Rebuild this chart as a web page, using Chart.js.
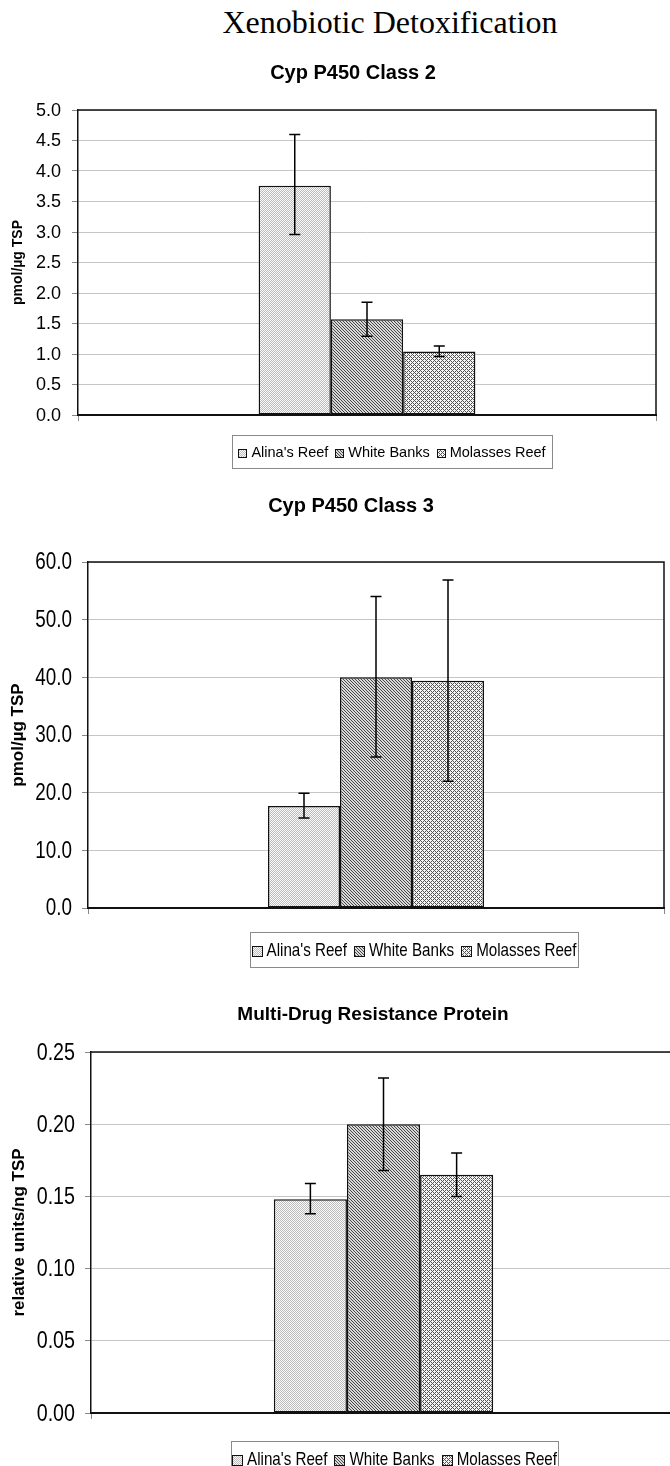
<!DOCTYPE html>
<html>
<head>
<meta charset="utf-8">
<script src="https://cdn.jsdelivr.net/npm/chart.js@4.4.1/dist/chart.umd.min.js"></script>
<style>
  html, body { margin: 0; padding: 0; background: #fff; }
  body { width: 670px; height: 1466px; position: relative; overflow: hidden; }
  #mainTitle {
    position: absolute; left: 190px; top: 4px; width: 400px;
    text-align: center; font: 32px/36px "Liberation Serif", "Times New Roman", serif; color: #000;
  }
  .band { position: absolute; left: 0; }
</style>
</head>
<body>
<div id="mainTitle">Xenobiotic Detoxification</div>
<div class="band" style="top:50px;width:670px;height:430px"><canvas id="cyp2"></canvas></div>
<div class="band" style="top:480px;width:670px;height:495px"><canvas id="cyp3"></canvas></div>
<div class="band" style="top:975px;width:690px;height:491px"><canvas id="mdr"></canvas></div>
<script>
const sites = ["Alina's Reef", "White Banks", "Molasses Reef"];

// Cyp P450 Class 2
const cyp2Values = [3.76, 1.57, 1.04];
const cyp2ErrUp = [0.84, 0.28, 0.09];
const cyp2ErrDown = [0.80, 0.28, 0.08];
const cyp2Scale = [0, 5, 0.5];

// Cyp P450 Class 3
const cyp3Values = [17.7, 40.0, 39.4];
const cyp3ErrUp = [2.2, 14.0, 17.5];
const cyp3ErrDown = [2.1, 13.8, 17.4];
const cyp3Scale = [0, 60, 10];

// Multi-Drug Resistance Protein
const mdrValues = [0.148, 0.200, 0.165];
const mdrErrUp = [0.011, 0.032, 0.015];
const mdrErrDown = [0.010, 0.032, 0.015];
const mdrScale = [0, 0.25, 0.05];

const SANS = "'Liberation Sans', Arial, sans-serif";

// excel-like fill patterns
function makePattern(kind) {
  const c = document.createElement('canvas');
  const n = kind === 'diag' ? 3 : (kind === 'dots' ? 2 : 4);
  c.width = n; c.height = n;
  const g = c.getContext('2d');
  for (let x = 0; x < n; x++) {
    for (let y = 0; y < n; y++) {
      let col;
      if (kind === 'dots') col = (x + y) % 2 ? '#bcbcbc' : '#fafafa';
      else if (kind === 'diag') col = (x - y + 3) % 3 === 0 ? '#474747' : '#d8d8d8';
      else col = ((x + y) % 4 === 0 || (x - y + 4) % 4 === 0) ? '#555555' : '#f4f4f4';
      g.fillStyle = col;
      g.fillRect(x, y, 1, 1);
    }
  }
  return g.createPattern(c, 'repeat');
}
const fills = [makePattern('dots'), makePattern('diag'), makePattern('cross')];

// text squeezed horizontally (stand-in for Arial Narrow)
function squeezedText(g, text, x, y, sx) {
  g.save();
  g.translate(x, y);
  g.scale(sx, 1);
  g.fillText(text, 0, 0);
  g.restore();
}

const excelPlugin = {
  id: 'excel',
  afterDatasetsDraw(chart) {
    const y = chart.scales.y, g = chart.ctx;
    g.save();
    g.strokeStyle = '#000';
    g.lineWidth = 1.5;
    chart.data.datasets.forEach((ds, i) => {
      const bar = chart.getDatasetMeta(i).data[0];
      const v = ds.data[0];
      const yt = y.getPixelForValue(v + ds.errUp);
      const yb = y.getPixelForValue(v - ds.errDown);
      g.beginPath();
      g.moveTo(bar.x, yt); g.lineTo(bar.x, yb);
      g.moveTo(bar.x - 5.5, yt); g.lineTo(bar.x + 5.5, yt);
      g.moveTo(bar.x - 5.5, yb); g.lineTo(bar.x + 5.5, yb);
      g.stroke();
    });
    g.restore();
  },
  afterDraw(chart, args, o) {
    const a = chart.chartArea, g = chart.ctx;
    g.save();
    // top + right frame
    g.strokeStyle = '#111';
    g.lineWidth = 1.5;
    g.beginPath();
    g.moveTo(a.left, a.top); g.lineTo(a.right, a.top); g.lineTo(a.right, a.bottom);
    g.stroke();

    // y tick labels, from the y scale's own ticks
    const ys = chart.scales.y;
    g.fillStyle = '#000';
    g.font = o.tickFont;
    g.textAlign = 'right';
    g.textBaseline = 'middle';
    ys.ticks.forEach(t => {
      squeezedText(g, t.label, ys.right - 6 - o.tickPad, ys.getPixelForValue(t.value) + 1, o.squeeze);
    });

    // chart title
    g.font = o.titleFont;
    g.textAlign = 'center';
    g.textBaseline = 'alphabetic';
    g.fillText(o.title, o.titleX, o.titleY);

    // boxed legend
    const L = o.legend;
    g.strokeStyle = '#8a8a8a';
    g.lineWidth = 1;
    g.strokeRect(L.left + 0.5, L.top + 0.5, L.width, L.height);
    g.font = L.font;
    g.textAlign = 'left';
    g.textBaseline = 'middle';
    const ds = chart.data.datasets;
    const widths = ds.map(d => g.measureText(d.label).width * o.squeeze);
    const total = widths.reduce((s, w) => s + L.swatch + 5 + w, 0) + L.gap * (ds.length - 1);
    let x = L.left + (L.width - total) / 2;
    const cy = L.top + L.height / 2 + 1;
    ds.forEach((d, i) => {
      const sy = Math.round(cy - L.swatch / 2) + 0.5;
      g.fillStyle = d.backgroundColor;
      g.fillRect(Math.round(x) + 0.5, sy, L.swatch, L.swatch);
      g.strokeStyle = '#111';
      g.strokeRect(Math.round(x) + 0.5, sy, L.swatch, L.swatch);
      x += L.swatch + 5;
      g.fillStyle = '#000';
      squeezedText(g, d.label, x, cy, o.squeeze);
      x += widths[i] + L.gap;
    });
    g.restore();
  }
};

function buildChart(id, opt) {
  const datasets = sites.map((s, i) => ({
    label: s,
    data: [opt.values[i]],
    backgroundColor: fills[i],
    borderColor: '#111',
    borderWidth: 1.5,
    borderSkipped: false,
    errUp: opt.errUp[i],
    errDown: opt.errDown[i]
  }));
  return new Chart(document.getElementById(id), {
    type: 'bar',
    data: { labels: [''], datasets: datasets },
    options: {
      responsive: true,
      maintainAspectRatio: false,
      animation: false,
      layout: { padding: opt.padding },
      datasets: { bar: { categoryPercentage: 0.375, barPercentage: 1 } },
      scales: {
        x: {
          offset: true,
          grid: { drawOnChartArea: false, offset: true, tickLength: 6, tickColor: '#888' },
          border: { color: '#111', width: 2 },
          ticks: { display: false },
          afterFit(s) { s.height = 10; }
        },
        y: {
          min: opt.scale[0],
          max: opt.scale[1],
          ticks: {
            display: false,
            stepSize: opt.scale[2],
            callback: v => v.toFixed(opt.decimals)
          },
          grid: { color: '#c6c6c6', tickLength: 6, tickColor: '#888' },
          border: { color: '#111', width: 1.5 },
          title: {
            display: true,
            text: opt.yTitle,
            font: opt.yTitleFont,
            color: '#000',
            padding: { top: opt.yTitlePad, bottom: 0 }
          },
          afterFit(s) { s.width = opt.axisWidth; }
        }
      },
      plugins: {
        legend: { display: false },
        tooltip: { enabled: false },
        excel: {
          title: opt.title,
          titleFont: 'bold ' + opt.titleSize + 'px ' + SANS,
          titleX: opt.titleX,
          titleY: opt.titleY,
          tickFont: opt.tickFont,
          tickPad: opt.tickPad,
          squeeze: opt.squeeze,
          legend: opt.legend
        }
      }
    },
    plugins: [excelPlugin]
  });
}

buildChart('cyp2', {
  values: cyp2Values, errUp: cyp2ErrUp, errDown: cyp2ErrDown, scale: cyp2Scale, decimals: 1,
  title: 'Cyp P450 Class 2', titleSize: 20, titleX: 353, titleY: 29,
  yTitle: 'pmol/\u00b5g TSP', yTitleFont: { family: SANS, size: 14, weight: 'bold' }, yTitlePad: 10,
  tickFont: '18px ' + SANS, tickPad: 11, squeeze: 1,
  axisWidth: 78,
  padding: { top: 60, left: 0, right: 14, bottom: 55 },
  legend: { left: 232, top: 385, width: 320, height: 33, swatch: 8, gap: 7, font: '14.5px ' + SANS }
});

buildChart('cyp3', {
  values: cyp3Values, errUp: cyp3ErrUp, errDown: cyp3ErrDown, scale: cyp3Scale, decimals: 1,
  title: 'Cyp P450 Class 3', titleSize: 20, titleX: 351, titleY: 32,
  yTitle: 'pmol/\u00b5g TSP', yTitleFont: { family: SANS, size: 17, weight: 'bold' }, yTitlePad: 8,
  tickFont: '23px ' + SANS, tickPad: 10, squeeze: 0.82,
  axisWidth: 88,
  padding: { top: 82, left: 0, right: 6, bottom: 57 },
  legend: { left: 250, top: 452, width: 328, height: 35, swatch: 10, gap: 7, font: '18.5px ' + SANS }
});

buildChart('mdr', {
  values: mdrValues, errUp: mdrErrUp, errDown: mdrErrDown, scale: mdrScale, decimals: 2,
  title: 'Multi-Drug Resistance Protein', titleSize: 19, titleX: 373, titleY: 45,
  yTitle: 'relative units/ng TSP', yTitleFont: { family: SANS, size: 17, weight: 'bold' }, yTitlePad: 9,
  tickFont: '24px ' + SANS, tickPad: 10, squeeze: 0.82,
  axisWidth: 91,
  padding: { top: 77, left: 0, right: 14, bottom: 43 },
  legend: { left: 231, top: 466, width: 327, height: 35, swatch: 10, gap: 7, font: '18.5px ' + SANS }
});
</script>
</body>
</html>
